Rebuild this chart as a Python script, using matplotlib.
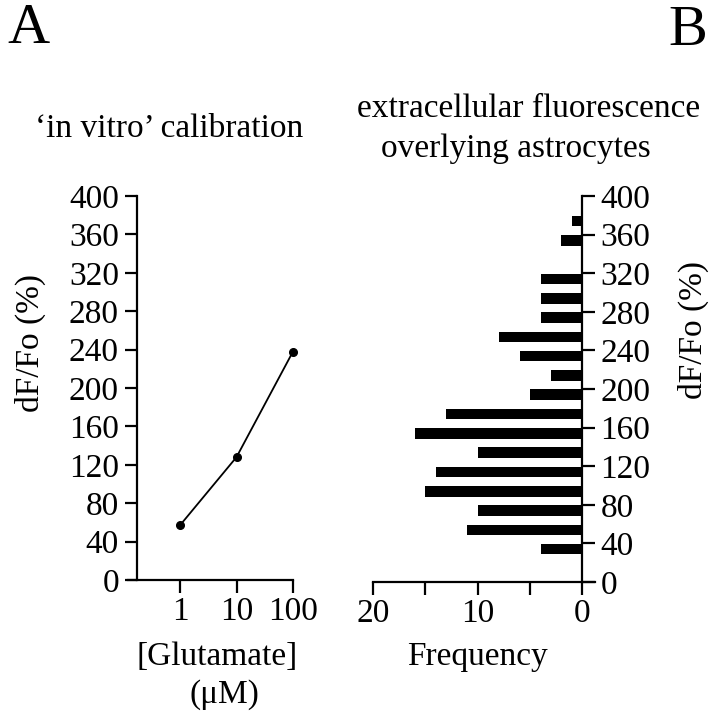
import numpy as np
import matplotlib
matplotlib.use("Agg")
import matplotlib.pyplot as plt

plt.rcParams['font.family'] = ['Liberation Serif', 'DejaVu Serif']

# panel A: in vitro calibration
glu_conc = [1, 10, 100]
glu_dff = [57, 128, 238]

# panel B: histogram of dF/Fo over astrocytes
bin_centers = [34, 54, 74, 94, 114, 134, 154, 174, 194, 214,
               234, 254, 274, 294, 314, 334, 354, 374]
frequency = [4, 11, 10, 15, 14, 10, 16, 13, 5, 3,
             6, 8, 4, 4, 4, 0, 2, 1]

yticks = [0, 40, 80, 120, 160, 200, 240, 280, 320, 360, 400]

W, H = 713, 720
fig = plt.figure(figsize=(W / 100, H / 100), dpi=100)


def px(x, y):
    return x / W, 1 - y / H


def axrect(x0, x1, ytop, ybot):
    return [x0 / W, 1 - ybot / H, (x1 - x0) / W, (ybot - ytop) / H]


fs = 24
lw = 1.6

# ---- panel A
ax1 = fig.add_axes(axrect(128, 293, 196, 580))
ax1.plot(glu_conc, glu_dff, color='black', lw=1.3, marker='o', ms=5.5,
         clip_on=False)
ax1.set_xscale('log')
ax1.set_xlim(0.12, 100)
ax1.set_ylim(0, 400)
ax1.spines['left'].set_position(('data', 0.173))
for s in ['top', 'right']:
    ax1.spines[s].set_visible(False)
for s in ['left', 'bottom']:
    ax1.spines[s].set_linewidth(lw)
ax1.set_xticks(glu_conc)
ax1.set_xticklabels(['1', '10', '100'])
ax1.xaxis.set_minor_locator(matplotlib.ticker.NullLocator())
ax1.set_yticks(yticks)
ax1.tick_params(axis='both', direction='out', length=9, width=lw,
                labelsize=fs)
ax1.tick_params(axis='x', pad=3)
ax1.tick_params(axis='y', pad=4)

# ---- panel B
ax2 = fig.add_axes(axrect(373, 595, 196, 582))
ax2.barh(bin_centers, frequency, height=11, color='black')
ax2.set_xlim(20, -1.2)
ax2.set_ylim(0, 400)
ax2.spines['right'].set_position(('data', 0))
for s in ['top', 'left']:
    ax2.spines[s].set_visible(False)
for s in ['right', 'bottom']:
    ax2.spines[s].set_linewidth(lw)
ax2.yaxis.tick_right()
ax2.set_yticks(yticks)
ax2.set_xticks([20, 10, 0])
ax2.set_xticks([15, 5], minor=True)
ax2.tick_params(axis='both', which='both', direction='out', length=9,
                width=lw, labelsize=fs)
ax2.tick_params(axis='x', pad=3)
ax2.tick_params(axis='y', pad=4)

# ---- texts
fig.text(*px(7, 43), 'A', fontsize=42, ha='left', va='baseline')
fig.text(*px(707, 45), 'B', fontsize=42, ha='right', va='baseline')
fig.text(*px(169, 137), '\u2018in vitro\u2019 calibration', fontsize=fs,
         ha='center', va='baseline')
fig.text(*px(529, 117), 'extracellular fluorescence', fontsize=fs,
         ha='center', va='baseline')
fig.text(*px(516, 157), 'overlying astrocytes', fontsize=fs,
         ha='center', va='baseline')
fig.text(*px(30, 343), 'dF/Fo (%)', fontsize=fs, rotation=90,
         ha='center', va='center')
fig.text(*px(693, 330), 'dF/Fo (%)', fontsize=fs, rotation=90,
         ha='center', va='center')
fig.text(*px(217, 665), '[Glutamate]', fontsize=fs, ha='center',
         va='baseline')
fig.text(*px(224, 703), '(\u03bcM)', fontsize=fs, ha='center', va='baseline')
fig.text(*px(477, 665), 'Frequency', fontsize=fs, ha='center', va='baseline')

fig.savefig('out.png', dpi=100)
